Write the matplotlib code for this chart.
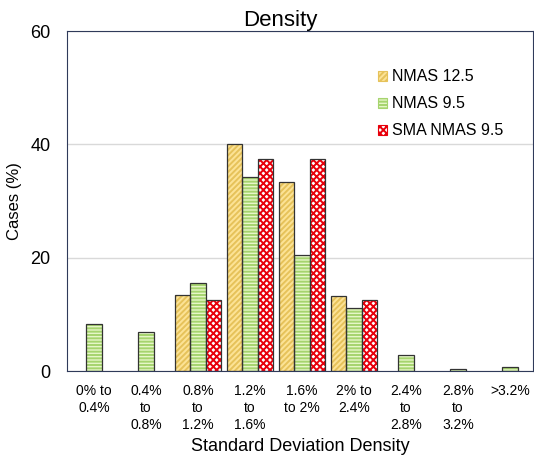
import matplotlib.pyplot as plt
import numpy as np

plt.rcParams['font.family'] = ['Liberation Sans', 'DejaVu Sans']

# Datos
categorias = ["0% to\n0.4%", "0.4%\nto\n0.8%", "0.8%\nto\n1.2%", "1.2%\nto\n1.6%",
              "1.6%\nto 2%", "2% to\n2.4%", "2.4%\nto\n2.8%", "2.8%\nto\n3.2%", ">3.2%"]
nmas_125 = [0, 0, 13.4, 40.0, 33.3, 13.3, 0, 0, 0]
nmas_95 = [8.3, 6.9, 15.5, 34.2, 20.5, 11.1, 2.9, 0.4, 0.7]
sma_nmas_95 = [0, 0, 12.5, 37.5, 37.5, 12.5, 0, 0, 0]

series = [
    ("NMAS 12.5", nmas_125, "#FCE396", "#E6C25A", "//////"),
    ("NMAS 9.5", nmas_95, "#E6F6C8", "#A6D46E", "-----"),
    ("SMA NMAS 9.5", sma_nmas_95, "white", "#E8000B", "xxxxx"),
]

x = np.arange(len(categorias))
ancho = 0.3

fig = plt.figure(figsize=(5.34, 4.57), dpi=100)
ax = fig.add_axes([0.1255, 0.188, 0.872, 0.744])

plt.rcParams['hatch.linewidth'] = 1.4
for i, (nombre, valores, cara, trama, patron) in enumerate(series):
    pos = x + (i - 1) * ancho
    valores = np.array(valores)
    mask = valores > 0
    # relleno con trama
    ax.bar(pos[mask], valores[mask], ancho, color=cara, edgecolor=trama,
           hatch=patron, linewidth=0, zorder=2)
    # borde
    ax.bar(pos[mask], valores[mask], ancho, fill=False, edgecolor="#333333",
           linewidth=0.9, zorder=3)
    # entrada de leyenda
    ax.bar([np.nan], [np.nan], color=cara, edgecolor=trama, hatch=patron,
           linewidth=0.8, label=nombre)

ax.set_ylim(0, 60)
ax.set_xlim(-0.52, 8.44)
ax.set_yticks([0, 20, 40, 60])
ax.set_xticks(x)
ax.set_xticklabels(categorias, fontsize=10, linespacing=1.3)
ax.tick_params(axis='y', labelsize=13, length=0, pad=12)
ax.tick_params(axis='x', length=0, pad=9)
ax.grid(axis='y', color="#D9D9D9", linewidth=1, zorder=0)
ax.set_axisbelow(True)
for lado in ["left", "bottom", "top", "right"]:
    ax.spines[lado].set_color("#2F3A5A")

ax.set_title("Density", fontsize=16, pad=2, x=0.457)
ax.set_xlabel("Standard Deviation Density", fontsize=13, labelpad=4)
ax.set_ylabel("Cases (%)", fontsize=12, labelpad=6)

ax.legend(loc="upper left", bbox_to_anchor=(0.636, 0.93), frameon=False,
          fontsize=11.5, handlelength=0.6, handleheight=0.6, handletextpad=0.3,
          labelspacing=0.75)

fig.savefig("out.png", dpi=100)
